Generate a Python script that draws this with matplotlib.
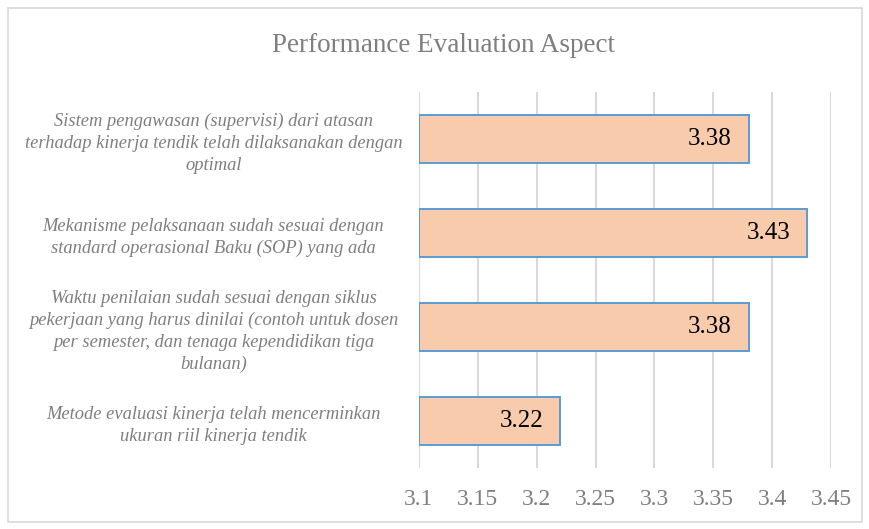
import matplotlib
matplotlib.use("Agg")
import matplotlib.pyplot as plt
from matplotlib.patches import Rectangle

title = "Performance Evaluation Aspect"
categories = [
    "Sistem pengawasan (supervisi) dari atasan\nterhadap kinerja tendik telah dilaksanakan dengan\noptimal",
    "Mekanisme pelaksanaan sudah sesuai dengan\nstandard operasional Baku (SOP) yang ada",
    "Waktu penilaian sudah sesuai dengan siklus\npekerjaan yang harus dinilai (contoh untuk dosen\nper semester, dan tenaga kependidikan tiga\nbulanan)",
    "Metode evaluasi kinerja telah mencerminkan\nukuran riil kinerja tendik",
]
values = [3.38, 3.43, 3.38, 3.22]
xticks = [3.1, 3.15, 3.2, 3.25, 3.3, 3.35, 3.4, 3.45]
xtick_labels = ["3.1", "3.15", "3.2", "3.25", "3.3", "3.35", "3.4", "3.45"]

serif = ["Liberation Serif", "DejaVu Serif"]
gray = "#7f7f7f"

fig = plt.figure(figsize=(8.7, 5.29), dpi=100)
fig.patch.set_facecolor("white")
fig.add_artist(Rectangle((8/870, 7/529), 854/870, 514/529, transform=fig.transFigure,
                         fill=False, edgecolor="#d9d9d9", linewidth=1.2))

ax = fig.add_axes([419/870, 1-468/529, (831-419)/870, (468-92)/529])
ypos = list(range(len(categories)))
ax.barh(ypos, [v - 3.1 for v in values], left=3.1, height=0.51,
        color="#f8cbad", edgecolor="#5b9bd5", linewidth=1.4, zorder=3)
ax.set_xlim(3.1, 3.45)
ax.set_ylim(len(categories) - 0.5, -0.5)
ax.set_xticks(xticks)
ax.set_xticklabels(xtick_labels, fontsize=17, color=gray, family=serif)
ax.set_yticks(ypos)
ax.set_yticklabels(categories, fontsize=13.3, color=gray, family=serif,
                   style="italic", ha="center", linespacing=1.36)
ax.tick_params(axis="y", length=0, pad=148)
ax.tick_params(axis="x", length=0, pad=15)
ax.grid(axis="x", color="#d9d9d9", linewidth=1.5, zorder=0)
for s in ax.spines.values():
    s.set_visible(False)

for y, v in zip(ypos, values):
    ax.annotate(f"{v:.2f}", xy=(v, y), xytext=(-17, 0), textcoords="offset pixels",
                ha="right", va="center", fontsize=18, color="black", family=serif)

fig.text(443/870, 1-45/529, title, ha="center", va="center", fontsize=19.5,
         color=gray, family=serif)

fig.savefig("out.png", dpi=100)
